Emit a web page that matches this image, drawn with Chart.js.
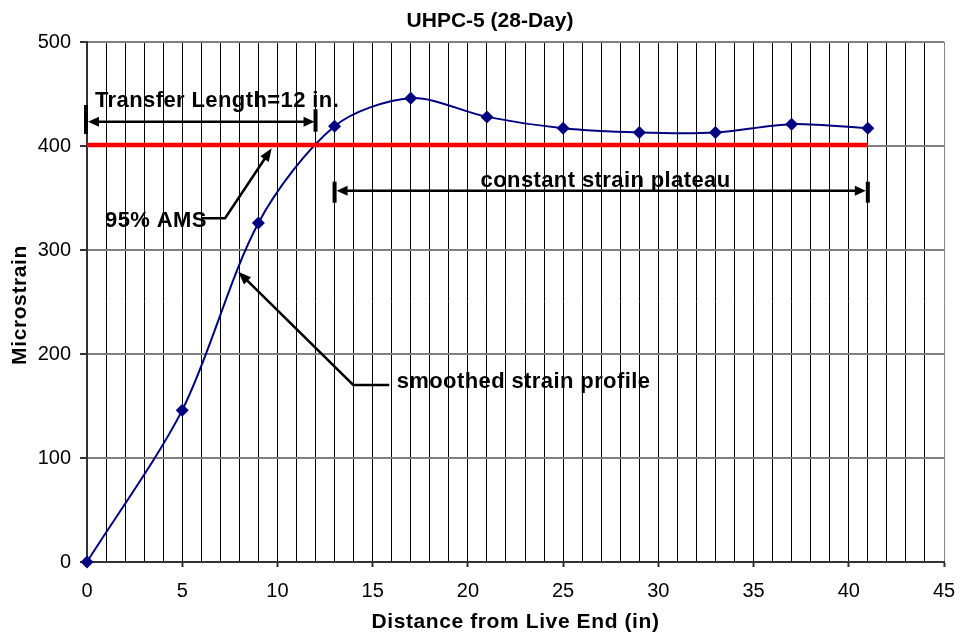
<!DOCTYPE html>
<html><head><meta charset="utf-8">
<script src="https://cdn.jsdelivr.net/npm/chart.js@4.4.1/dist/chart.umd.min.js"></script>
<style>html,body{margin:0;padding:0;background:#fff;} #wrap{width:960px;height:636px;}</style>
</head><body><div id="wrap"><canvas id="c" width="960" height="636"></canvas></div>
<script>
// ---- data ----
const distance = [0, 5, 9, 13, 17, 21, 25, 29, 33, 37, 41];
const microstrain = [0, 146, 326, 419, 446, 428, 417, 413, 413, 421, 417];
const amsX = [0, 41];
const amsY = [401, 401];
const xTickValues = [0, 5, 10, 15, 20, 25, 30, 35, 40, 45];
const yTickValues = [0, 100, 200, 300, 400, 500];
const chartTitle = 'UHPC-5 (28-Day)';
const xTitle = 'Distance from Live End (in)';
const yTitle = 'Microstrain';
const labelTransfer = 'Transfer Length=12 in.';
const labelAms = '95% AMS';
const labelPlateau = 'constant strain plateau';
const labelSmooth = 'smoothed strain profile';
const transferLength = 12;
const plateauStart = 13, plateauEnd = 41;

const FONT = '"Liberation Sans", Arial, Helvetica, sans-serif';

function arrowHead(ctx, x1, y1, x2, y2, len, hw) {
  const a = Math.atan2(y2 - y1, x2 - x1);
  const c = Math.cos(a), s = Math.sin(a);
  ctx.beginPath();
  ctx.moveTo(x2, y2);
  ctx.lineTo(x2 - len * c + hw * s, y2 - len * s - hw * c);
  ctx.lineTo(x2 - len * c - hw * s, y2 - len * s + hw * c);
  ctx.closePath();
  ctx.fill();
}
function seg(ctx, pts) {
  ctx.beginPath();
  ctx.moveTo(pts[0][0], pts[0][1]);
  for (let i = 1; i < pts.length; i++) ctx.lineTo(pts[i][0], pts[i][1]);
  ctx.stroke();
}

const annot = {
  id: 'annot',
  afterDraw(chart) {
    const ctx = chart.ctx, xs = chart.scales.x, ys = chart.scales.y;
    const X = v => xs.getPixelForValue(v), Y = v => ys.getPixelForValue(v);
    ctx.save();
    ctx.fillStyle = '#000'; ctx.strokeStyle = '#000';
    ctx.lineCap = 'butt';

    // title & axis titles
    ctx.textBaseline = 'alphabetic';
    ctx.textAlign = 'center';
    ctx.font = 'bold 21px ' + FONT;
    ctx.fillText(chartTitle, 490, 27);
    ctx.letterSpacing = '0.6px';
    ctx.font = 'bold 21px ' + FONT;
    ctx.fillText(xTitle, (chart.chartArea.left + chart.chartArea.right) / 2, 628);
    ctx.save();
    ctx.translate(26, 305);
    ctx.rotate(-Math.PI / 2);
    ctx.fillText(yTitle, 0, 0);
    ctx.restore();

    // annotation texts
    ctx.font = 'bold 22px ' + FONT;
    ctx.letterSpacing = '0.4px';
    ctx.textAlign = 'left';
    ctx.fillText(labelTransfer, X(0.42), Y(437.5));
    ctx.fillText(labelAms, X(0.95), Y(322.4));
    ctx.fillText(labelSmooth, X(16.26), Y(167));
    ctx.textAlign = 'center';
    ctx.fillText(labelPlateau, X(27.23), Y(360.6));
    ctx.letterSpacing = '0px';

    // transfer length arrow
    ctx.lineWidth = 2.5;
    let yT = Y(423.4), xa = X(0) + 1, xb = X(transferLength) - 1;
    seg(ctx, [[xa + 6, yT], [xb - 6, yT]]);
    arrowHead(ctx, xb - 10, yT, xb, yT, 11, 5);
    arrowHead(ctx, xa + 10, yT, xa, yT, 11, 5);
    ctx.lineWidth = 4;
    seg(ctx, [[X(0) - 1, Y(439.4)], [X(0) - 1, Y(411.5)]]);
    seg(ctx, [[X(transferLength), Y(435.3)], [X(transferLength), Y(413.8)]]);

    // plateau arrow
    ctx.lineWidth = 2.5;
    let yP = Y(357), pa = X(plateauStart) + 2, pb = X(plateauEnd) - 2;
    seg(ctx, [[pa + 6, yP], [pb - 6, yP]]);
    arrowHead(ctx, pb - 10, yP, pb, yP, 11, 5);
    arrowHead(ctx, pa + 10, yP, pa, yP, 11, 5);
    ctx.lineWidth = 4;
    seg(ctx, [[X(plateauStart), Y(365.7)], [X(plateauStart), Y(345.5)]]);
    seg(ctx, [[X(plateauEnd), Y(365.7)], [X(plateauEnd), Y(345.5)]]);

    // 95% AMS leader
    ctx.lineWidth = 2.5;
    let p1 = [X(6.02), Y(330.5)], p2 = [X(7.25), Y(330.5)], p3 = [X(9.70), Y(397.8)];
    let a = Math.atan2(p3[1] - p2[1], p3[0] - p2[0]);
    seg(ctx, [p1, p2, [p3[0] - 6 * Math.cos(a), p3[1] - 6 * Math.sin(a)]]);
    arrowHead(ctx, p2[0], p2[1], p3[0], p3[1], 13, 5);

    // smoothed leader
    let q1 = [X(15.87), Y(170.2)], q2 = [X(13.98), Y(170.2)], q3 = [X(7.94), Y(279.1)];
    a = Math.atan2(q3[1] - q2[1], q3[0] - q2[0]);
    seg(ctx, [q1, q2, [q3[0] - 6 * Math.cos(a), q3[1] - 6 * Math.sin(a)]]);
    arrowHead(ctx, q2[0], q2[1], q3[0], q3[1], 13, 5);

    ctx.restore();
  }
};

new Chart(document.getElementById('c'), {
  type: 'line',
  data: {
    datasets: [
      {
        label: '95% AMS',
        data: amsX.map((x, i) => ({ x, y: amsY[i] })),
        borderColor: '#FF0000',
        borderWidth: 4.5,
        pointRadius: 0,
        tension: 0,
        borderCapStyle: 'butt'
      },
      {
        label: 'UHPC-5',
        data: distance.map((x, i) => ({ x, y: microstrain[i] })),
        borderColor: '#000080',
        backgroundColor: '#000080',
        borderWidth: 2,
        tension: 0.3,
        clip: false,
        pointStyle: 'rectRot',
        pointRadius: 6.5,
        pointBorderWidth: 0,
        pointBackgroundColor: '#000080',
        pointBorderColor: '#000080'
      }
    ]
  },
  options: {
    responsive: false,
    animation: false,
    devicePixelRatio: 1,
    layout: { padding: { left: 0, right: 16, top: 42, bottom: 0 } },
    plugins: { legend: { display: false }, title: { display: false }, tooltip: { enabled: false } },
    scales: {
      x: {
        type: 'linear',
        min: 0, max: 45,
        afterFit(s) { s.height = 74; s.paddingLeft = 0; s.paddingRight = 0; },
        afterBuildTicks(s) {
          const t = [];
          for (let v = 0; v <= 45; v++) t.push({ value: v });
          s.ticks = t;
        },
        ticks: {
          autoSkip: false, maxRotation: 0, padding: 12,
          color: '#000',
          font: { family: FONT, size: 20 },
          callback: v => xTickValues.includes(v) ? String(v) : ''
        },
        grid: {
          color: c => (c.tick && c.tick.value === 45) ? '#888' : '#000',
          lineWidth: 1,
          tickLength: 5,
          tickColor: c => (c.tick && xTickValues.includes(c.tick.value)) ? '#333' : 'rgba(0,0,0,0)',
          tickWidth: 2
        },
        border: { color: '#333', width: 2 }
      },
      y: {
        type: 'linear',
        min: 0, max: 500,
        afterFit(s) { s.width = 87; s.paddingTop = 0; s.paddingBottom = 0; },
        afterBuildTicks(s) { s.ticks = yTickValues.map(v => ({ value: v })); },
        ticks: {
          padding: 9,
          color: '#000',
          font: { family: FONT, size: 20 }
        },
        grid: {
          color: '#808080',
          lineWidth: 2,
          tickLength: 7,
          tickColor: '#333',
          tickWidth: 2
        },
        border: { color: '#333', width: 2 }
      }
    }
  },
  plugins: [annot]
});
</script>
</body></html>
